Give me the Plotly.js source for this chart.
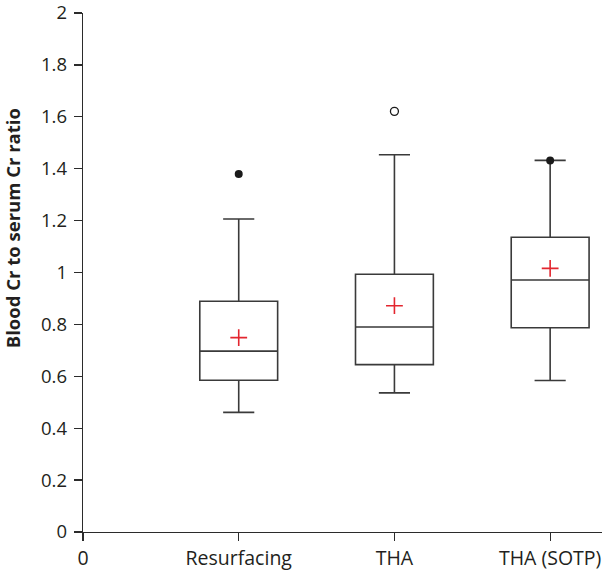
<!DOCTYPE html>
<html>
<head>
<meta charset="utf-8">
<script src="https://cdn.plot.ly/plotly-3.0.1.min.js"></script>
<style>html,body{margin:0;padding:0;background:#fff;}#chart{width:608px;height:571px;}</style>
</head>
<body>
<div id="chart"></div>
<script>
// Category positions and labels
const tickPositions = [0, 1, 2, 3];
const tickLabels = ["0", "Resurfacing", "THA", "THA (SOTP)"];
const groupPositions = [1, 2, 3];

// Box statistics
const q1Values = [0.585, 0.645, 0.787];
const medianValues = [0.697, 0.790, 0.971];
const q3Values = [0.889, 0.993, 1.136];
const lowerWhisker = [0.461, 0.536, 0.584];
const upperWhisker = [1.206, 1.454, 1.432];
const meanValues = [0.749, 0.872, 1.016];

// Outliers
const filledOutlierX = [1, 3];
const filledOutlierY = [1.380, 1.432];
const openOutlierX = [2];
const openOutlierY = [1.621];

const ink = '#2b2b2b';
const font = 'Open Sans, Liberation Sans, sans-serif';

const traces = [
  {
    type: 'box',
    x: groupPositions,
    q1: q1Values,
    median: medianValues,
    q3: q3Values,
    lowerfence: lowerWhisker,
    upperfence: upperWhisker,
    boxpoints: false,
    width: 0.5,
    whiskerwidth: 0.4,
    fillcolor: 'rgba(0,0,0,0)',
    line: {color: '#3a3a3a', width: 1.6},
    hoverinfo: 'skip',
    showlegend: false
  },
  {
    type: 'scatter', mode: 'markers',
    x: groupPositions, y: meanValues,
    marker: {symbol: 'cross-thin', size: 12, line: {color: '#e3262f', width: 1.6}},
    showlegend: false, hoverinfo: 'skip'
  },
  {
    type: 'scatter', mode: 'markers',
    x: filledOutlierX, y: filledOutlierY,
    marker: {symbol: 'circle', size: 8, color: '#1a1a1a', line: {width: 0}},
    showlegend: false, hoverinfo: 'skip'
  },
  {
    type: 'scatter', mode: 'markers',
    x: openOutlierX, y: openOutlierY,
    marker: {symbol: 'circle-open', size: 8, color: '#1a1a1a', line: {width: 1.3, color: '#1a1a1a'}},
    showlegend: false, hoverinfo: 'skip'
  }
];

const layout = {
  width: 608, height: 571,
  margin: {l: 83, r: 6, t: 13, b: 39, pad: 0},
  paper_bgcolor: '#fff', plot_bgcolor: '#fff',
  font: {family: font, size: 18.5, color: '#231f20'},
  xaxis: {
    type: 'linear', range: [0, 3.333],
    tickmode: 'array', tickvals: tickPositions, ticktext: tickLabels,
    tickfont: {family: font, size: 19.5, color: '#231f20'},
    ticks: 'outside', ticklen: 8, tickwidth: 1.3, tickcolor: ink,
    showline: true, linecolor: ink, linewidth: 1.3,
    showgrid: false, zeroline: false, fixedrange: true,
    ticklabeloverflow: 'allow'
  },
  yaxis: {
    range: [0, 2], dtick: 0.2, tick0: 0,
    tickfont: {family: font, size: 18.5, color: '#231f20'},
    ticks: 'outside', ticklen: 8, tickwidth: 1.3, tickcolor: ink,
    showline: true, linecolor: ink, linewidth: 1.3,
    showgrid: false, zeroline: false, fixedrange: true,
    ticklabelstandoff: 3, ticklabeloverflow: 'allow'
  },
  annotations: [{
    text: '<b>Blood Cr to serum Cr ratio</b>',
    xref: 'paper', yref: 'paper',
    x: -0.137, y: 0.585, xanchor: 'center', yanchor: 'middle',
    textangle: -90, showarrow: false,
    font: {family: font, size: 18.5, color: '#231f20'}
  }]
};

Plotly.newPlot('chart', traces, layout, {displayModeBar: false, staticPlot: true});
</script>
</body>
</html>
